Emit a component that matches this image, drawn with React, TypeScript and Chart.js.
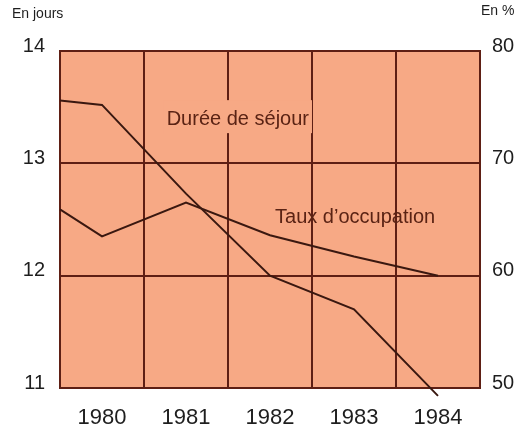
import React, { useEffect, useRef } from "react";
import { Chart, registerables } from "chart.js";

Chart.register(...registerables);

// ---- Data ----
const xPositions = [1979.5, 1980, 1981, 1982, 1983, 1984];
const yearTicks = [1980, 1981, 1982, 1983, 1984];
const dureeSejour = [13.56, 13.52, 12.73, 12.0, 11.7, 10.93]; // days (left axis)
const tauxOccupation = [65.9, 63.5, 66.5, 63.6, 61.7, 60.0]; // % (right axis)
const leftTicks = [11, 12, 13, 14];
const rightTicks = [50, 60, 70, 80];

const dureeLabel = "Durée de séjour";
const tauxLabel = "Taux d’occupation";
const leftUnit = "En jours";
const rightUnit = "En %";

// label anchors (data units)
const dureeLabelAt = { x: 1980.77, y: 13.34 };
const tauxLabelAt = { x: 1982.06, y: 64.68 };

// ---- Styles ----
const FONT = '"Liberation Sans", Arial, Helvetica, sans-serif';
const PLOT_BG = "#F7A985";
const GRID = "#5e1f14";
const LINE = "#3a1810";
const LABEL_TXT = "#5a2314";
const TICK_TXT = "#1e1e1e";

const decorPlugin = {
  id: "decor",
  beforeDraw(chart: any) {
    const { ctx, chartArea } = chart;
    ctx.save();
    ctx.fillStyle = PLOT_BG;
    ctx.fillRect(
      chartArea.left,
      chartArea.top,
      chartArea.right - chartArea.left,
      chartArea.bottom - chartArea.top
    );
    ctx.restore();
  },
  beforeDatasetsDraw(chart: any) {
    const { ctx, scales } = chart;
    ctx.save();
    ctx.font = `20px ${FONT}`;
    ctx.textBaseline = "alphabetic";
    ctx.textAlign = "left";
    // Durée de séjour (with knockout behind)
    const dx = scales.x.getPixelForValue(dureeLabelAt.x);
    const dy = scales.y.getPixelForValue(dureeLabelAt.y);
    const dw = ctx.measureText(dureeLabel).width;
    ctx.fillStyle = PLOT_BG;
    ctx.fillRect(dx - 3, dy - 25, dw + 6, 33);
    ctx.fillStyle = LABEL_TXT;
    ctx.fillText(dureeLabel, dx, dy);
    // Taux d'occupation
    const tx = scales.x.getPixelForValue(tauxLabelAt.x);
    const ty = scales.y1.getPixelForValue(tauxLabelAt.y);
    ctx.fillText(tauxLabel, tx, ty);
    ctx.restore();
  },
  afterDraw(chart: any) {
    const { ctx } = chart;
    ctx.save();
    ctx.font = `14px ${FONT}`;
    ctx.fillStyle = TICK_TXT;
    ctx.textBaseline = "alphabetic";
    ctx.textAlign = "left";
    ctx.fillText(leftUnit, 12, 18);
    ctx.fillText(rightUnit, 481, 15);
    ctx.restore();
  },
};

export default function App() {
  const canvasRef = useRef<HTMLCanvasElement | null>(null);

  useEffect(() => {
    const canvas = canvasRef.current;
    if (!canvas) return;
    const chart = new Chart(canvas, {
      type: "line",
      data: {
        datasets: [
          {
            label: dureeLabel,
            data: xPositions.map((x, i) => ({ x, y: dureeSejour[i] })),
            yAxisID: "y",
            borderColor: LINE,
            borderWidth: 2,
            pointRadius: 0,
            tension: 0,
            clip: false as any,
          },
          {
            label: tauxLabel,
            data: xPositions.map((x, i) => ({ x, y: tauxOccupation[i] })),
            yAxisID: "y1",
            borderColor: LINE,
            borderWidth: 2,
            pointRadius: 0,
            tension: 0,
            clip: false as any,
          },
        ],
      },
      options: {
        responsive: false,
        animation: false,
        layout: { padding: { top: 51, left: 0, right: 0, bottom: 0 } },
        plugins: {
          legend: { display: false },
          tooltip: { enabled: false },
          title: { display: false },
        },
        scales: {
          x: {
            type: "linear",
            min: 1979.5,
            max: 1984.5,
            afterBuildTicks: (scale: any) => {
              scale.ticks = yearTicks.map((v) => ({ value: v }));
            },
            afterFit: (scale: any) => {
              scale.height = 47;
            },
            grid: { color: GRID, lineWidth: 2, offset: true, drawTicks: false },
            border: { color: GRID, width: 2 },
            ticks: {
              padding: 17,
              color: TICK_TXT,
              font: { family: FONT, size: 22 },
              autoSkip: false,
              maxRotation: 0,
              callback: (v: any) => String(v),
            },
          },
          y: {
            type: "linear",
            position: "left",
            min: 11,
            max: 14,
            afterBuildTicks: (scale: any) => {
              scale.ticks = leftTicks.map((v) => ({ value: v }));
            },
            afterFit: (scale: any) => {
              scale.width = 60;
            },
            grid: { color: GRID, lineWidth: 2, drawTicks: false },
            border: { color: GRID, width: 2 },
            ticks: {
              padding: 15,
              labelOffset: -5,
              color: TICK_TXT,
              font: { family: FONT, size: 20 },
              callback: (v: any) => String(v),
            },
          },
          y1: {
            type: "linear",
            position: "right",
            min: 50,
            max: 80,
            afterBuildTicks: (scale: any) => {
              scale.ticks = rightTicks.map((v) => ({ value: v }));
            },
            afterFit: (scale: any) => {
              scale.width = 50;
            },
            grid: { display: false, drawTicks: false },
            border: { color: GRID, width: 2 },
            ticks: {
              padding: 12,
              labelOffset: -5,
              color: TICK_TXT,
              font: { family: FONT, size: 20 },
              callback: (v: any) => String(v),
            },
          },
        },
      } as any,
      plugins: [decorPlugin],
    });
    return () => chart.destroy();
  }, []);

  return (
    <div style={{ position: "fixed", left: 0, top: 0, width: 530, height: 435, background: "#fff" }}>
      <canvas ref={canvasRef} width={530} height={435} style={{ display: "block" }} />
    </div>
  );
}
